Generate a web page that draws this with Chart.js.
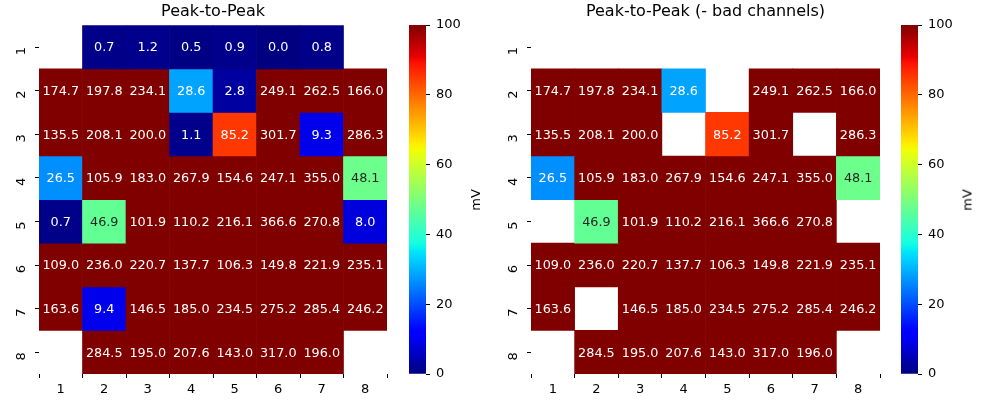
<!DOCTYPE html>
<html>
<head>
<meta charset="utf-8">
<script src="https://cdn.jsdelivr.net/npm/chart.js@4.4.1/dist/chart.umd.min.js"></script>
<style>
  body { margin: 0; background: #fff; width: 1000px; height: 400px; position: relative; overflow: hidden; font-family: "DejaVu Sans", sans-serif; }
  canvas { position: absolute; top: 0; }
  .cblabel { position: absolute; font-size: 13px; color: #000; transform: translate(-50%, -50%) rotate(-90deg); white-space: nowrap; }
</style>
</head>
<body>
<canvas id="hmLeft" width="395" height="400" style="left:0px"></canvas>
<canvas id="cbLeft" width="100" height="400" style="left:400px"></canvas>
<canvas id="hmRight" width="396" height="400" style="left:492px"></canvas>
<canvas id="cbRight" width="100" height="400" style="left:892px"></canvas>
<div class="cblabel" style="left:475px; top:200px">mV</div>
<div class="cblabel" style="left:967px; top:200px">mV</div>
<script>
// channel grid (rows 1-8, columns 1-8), peak-to-peak in mV
const colLabels = ['1', '2', '3', '4', '5', '6', '7', '8'];
const rowLabels = [1, 2, 3, 4, 5, 6, 7, 8];
const ptpRow1 = [null, 0.7, 1.2, 0.5, 0.9, 0.0, 0.8, null];
const ptpRow2 = [174.7, 197.8, 234.1, 28.6, 2.8, 249.1, 262.5, 166.0];
const ptpRow3 = [135.5, 208.1, 200.0, 1.1, 85.2, 301.7, 9.3, 286.3];
const ptpRow4 = [26.5, 105.9, 183.0, 267.9, 154.6, 247.1, 355.0, 48.1];
const ptpRow5 = [0.7, 46.9, 101.9, 110.2, 216.1, 366.6, 270.8, 8.0];
const ptpRow6 = [109.0, 236.0, 220.7, 137.7, 106.3, 149.8, 221.9, 235.1];
const ptpRow7 = [163.6, 9.4, 146.5, 185.0, 234.5, 275.2, 285.4, 246.2];
const ptpRow8 = [null, 284.5, 195.0, 207.6, 143.0, 317.0, 196.0, null];
// [row, col] of channels dropped in the second plot
const badChannels = [[1, 2], [1, 3], [1, 4], [1, 5], [1, 6], [1, 7], [2, 5], [3, 4], [3, 7], [5, 1], [5, 8], [7, 2]];
const vMin = 0;
const vMax = 100;
const cbTicks = [0, 20, 40, 60, 80, 100];

Chart.defaults.font.family = '"DejaVu Sans", sans-serif';
Chart.defaults.color = '#000';

const ptpGrid = [ptpRow1, ptpRow2, ptpRow3, ptpRow4, ptpRow5, ptpRow6, ptpRow7, ptpRow8];
const goodGrid = ptpGrid.map((row, i) => row.map((v, j) =>
    badChannels.some(b => b[0] === i + 1 && b[1] === j + 1) ? null : v));

// matplotlib 'jet'
const jetR = [[0, 0], [0.35, 0], [0.66, 1], [0.89, 1], [1, 0.5]];
const jetG = [[0, 0], [0.125, 0], [0.375, 1], [0.64, 1], [0.91, 0], [1, 0]];
const jetB = [[0, 0.5], [0.11, 1], [0.34, 1], [0.65, 0], [1, 0]];
const seg = (pts, x) => {
    for (let k = 1; k < pts.length; k++) {
        if (x <= pts[k][0]) {
            const [x0, y0] = pts[k - 1], [x1, y1] = pts[k];
            return y0 + (y1 - y0) * (x - x0) / (x1 - x0);
        }
    }
    return pts[pts.length - 1][1];
};
const jet = v => {
    const t = Math.min(1, Math.max(0, (v - vMin) / (vMax - vMin)));
    return [seg(jetR, t), seg(jetG, t), seg(jetB, t)];
};
const css = c => `rgb(${Math.round(c[0] * 255)},${Math.round(c[1] * 255)},${Math.round(c[2] * 255)})`;
const textColor = v => {
    const lin = c => c <= 0.03928 ? c / 12.92 : Math.pow((c + 0.055) / 1.055, 2.4);
    const [r, g, b] = jet(v);
    const lum = 0.2126 * lin(r) + 0.7152 * lin(g) + 0.0722 * lin(b);
    return lum > 0.408 ? '#262626' : '#ffffff';
};

const cellText = {
    id: 'cellText',
    afterDatasetsDraw(chart) {
        const c = chart.ctx;
        c.save();
        c.font = '12.8px "DejaVu Sans"';
        c.textAlign = 'center';
        c.textBaseline = 'middle';
        chart.data.datasets.forEach((ds, i) => {
            chart.getDatasetMeta(i).data.forEach((bar, j) => {
                const v = ds.values[j];
                if (v === null) return;
                const p = bar.getCenterPoint();
                c.fillStyle = textColor(v);
                c.fillText(v.toFixed(1), p.x, p.y + 1);
            });
        });
        c.restore();
    }
};

const tickFont = { size: 13 };

function heatmap(id, title, grid) {
    const datasets = rowLabels.map((r, i) => ({
        label: 'row ' + r,
        data: grid[i].map(v => v === null ? null : [r - 0.5, r + 0.5]),
        values: grid[i],
        backgroundColor: grid[i].map(v => v === null ? 'rgba(0,0,0,0)' : css(jet(v))),
        borderWidth: 0,
        barPercentage: 1,
        categoryPercentage: 1,
        grouped: false,
    }));
    return new Chart(document.getElementById(id), {
        type: 'bar',
        data: { labels: colLabels, datasets },
        plugins: [cellText],
        options: {
            responsive: false,
            animation: false,
            events: [],
            layout: { padding: { left: 0, right: 8, top: 0, bottom: 0 } },
            plugins: {
                legend: { display: false },
                tooltip: { enabled: false },
                title: {
                    display: true,
                    text: title,
                    fullSize: false,
                    color: '#000',
                    font: { size: 16, weight: 'normal' },
                    padding: { top: 2, bottom: 4 },
                },
            },
            scales: {
                x: {
                    type: 'category',
                    ticks: { font: tickFont, color: '#000', padding: 4 },
                    grid: { drawOnChartArea: false, tickLength: 4, tickColor: '#000' },
                    border: { display: false },
                    afterFit: s => { s.height = 26; },
                },
                y: {
                    type: 'linear',
                    reverse: true,
                    min: 0.5,
                    max: 8.5,
                    afterBuildTicks: s => { s.ticks = rowLabels.map(v => ({ value: v })); },
                    ticks: { font: tickFont, color: '#000', padding: 13, minRotation: 90, maxRotation: 90 },
                    grid: { drawOnChartArea: false, tickLength: 4, tickColor: '#000' },
                    border: { display: false },
                    afterFit: s => { s.width = 39; },
                },
            },
        },
    });
}

function colorbar(id) {
    return new Chart(document.getElementById(id), {
        type: 'bar',
        data: {
            labels: [''],
            datasets: [{
                data: [[vMin, vMax]],
                backgroundColor: ctx => {
                    const area = ctx.chart.chartArea;
                    if (!area) return 'rgba(0,0,0,0)';
                    const g = ctx.chart.ctx.createLinearGradient(0, area.bottom, 0, area.top);
                    for (let k = 0; k <= 100; k++) {
                        g.addColorStop(k / 100, css(jet(vMin + (vMax - vMin) * k / 100)));
                    }
                    return g;
                },
                borderWidth: 0,
                barPercentage: 1,
                categoryPercentage: 1,
            }],
        },
        options: {
            responsive: false,
            animation: false,
            events: [],
            layout: { padding: { left: 9, top: 25, bottom: 26, right: 0 } },
            plugins: { legend: { display: false }, tooltip: { enabled: false } },
            scales: {
                x: { display: false },
                y: {
                    position: 'right',
                    min: vMin,
                    max: vMax,
                    afterBuildTicks: s => { s.ticks = cbTicks.map(v => ({ value: v })); },
                    ticks: { font: tickFont, color: '#000', padding: 6 },
                    grid: { drawOnChartArea: false, tickLength: 4, tickColor: '#000' },
                    border: { display: false },
                    afterFit: s => { s.width = 74; },
                },
            },
        },
    });
}

heatmap('hmLeft', 'Peak-to-Peak', ptpGrid);
colorbar('cbLeft');
heatmap('hmRight', 'Peak-to-Peak (- bad channels)', goodGrid);
colorbar('cbRight');
</script>
</body>
</html>
